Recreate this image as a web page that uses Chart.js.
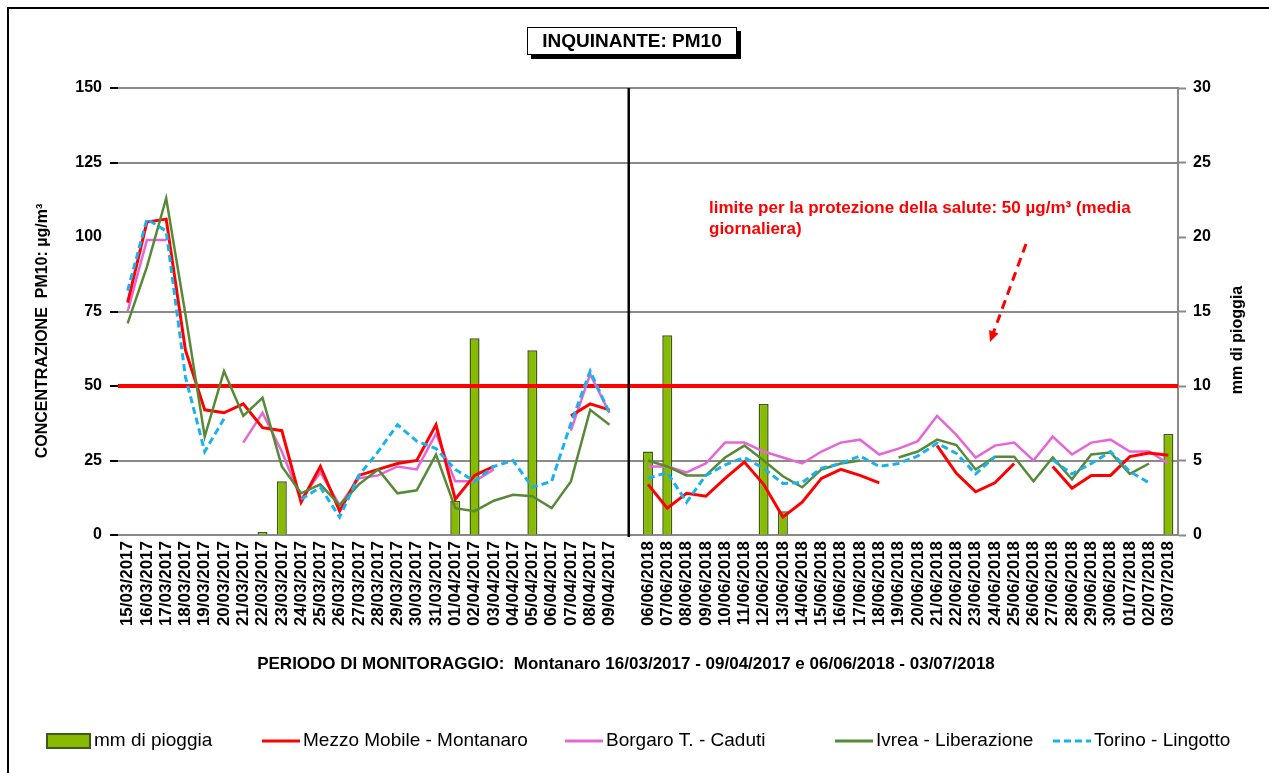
<!DOCTYPE html>
<html><head><meta charset="utf-8">
<script src="https://cdn.jsdelivr.net/npm/chart.js@4.4.1/dist/chart.umd.min.js"></script>
<style>html,body{margin:0;padding:0;background:#fff}canvas{display:block}</style>
</head><body>
<canvas id="c" width="1269" height="773"></canvas>
<script>
const categories = ['15/03/2017','16/03/2017','17/03/2017','18/03/2017','19/03/2017','20/03/2017','21/03/2017','22/03/2017','23/03/2017','24/03/2017','25/03/2017','26/03/2017','27/03/2017','28/03/2017','29/03/2017','30/03/2017','31/03/2017','01/04/2017','02/04/2017','03/04/2017','04/04/2017','05/04/2017','06/04/2017','07/04/2017','08/04/2017','09/04/2017','',
'06/06/2018','07/06/2018','08/06/2018','09/06/2018','10/06/2018','11/06/2018','12/06/2018','13/06/2018','14/06/2018','15/06/2018','16/06/2018','17/06/2018','18/06/2018','19/06/2018','20/06/2018','21/06/2018','22/06/2018','23/06/2018','24/06/2018','25/06/2018','26/06/2018','27/06/2018','28/06/2018','29/06/2018','30/06/2018','01/07/2018','02/07/2018','03/07/2018'];

const rain = [null,null,null,null,null,null,null,0.2,3.6,null,null,null,null,null,null,null,null,2.3,13.2,null,null,12.4,null,null,null,null,null,
5.6,13.4,null,null,null,null,8.8,1.6,null,null,null,null,null,null,null,null,null,null,null,null,null,null,null,null,null,null,null,6.8];

const montanaro = [78,105,106,62,42,41,44,36,35,11,23,8,20,22,24,25,37,12,20,23,null,null,null,40,44,42,null,
17,9,14,13,19,24.5,17,6,11,19,22,20,17.5,null,null,30,20.7,14.5,17.5,24,null,23,15.7,20,20,26.3,27.5,26.8];

const borgaro = [75,99,99,null,null,null,31,41,28,12,21,10,19,20,23,22,34,18,18,22,null,null,null,35,54,41,null,
23,23,21,24,31,31,28,26,24,28,31,32,27,29,31.5,40,33.6,26,30,31,25,33,27,31,32,28,28,24];

const ivrea = [71,90,113,74,33,55,40,46,23,14,17,10,17,22,14,15,27,9,8,11.5,13.5,13,9,18,42,37,null,
25,23,20,20,26,30,25,19.7,16,22,24,25,null,26,28,32,30.2,22,26.3,26.3,18,26,18.7,27,27.7,20.5,24,null];

const torino = [82,106,102,53,28,39,null,null,null,12,16,6,20,28,37,31.5,29,22,18,23,25,16,18,37.5,55,41,null,
19,21,11,20,23.5,26,22.4,17.3,17.6,22.4,24,26.5,23,24,26.5,30.8,27.4,20.5,26.3,null,null,25.2,20.5,24,28,21.3,17.5,null];

const LIMIT = 50;
const GAP_INDEX = 26;
const chartTitle = 'INQUINANTE: PM10';
const noteLines = ['limite per la protezione della salute: 50 µg/m³ (media', 'giornaliera)'];
const xTitle = 'PERIODO DI MONITORAGGIO:  Montanaro 16/03/2017 - 09/04/2017 e 06/06/2018 - 03/07/2018';
const yTitle = 'CONCENTRAZIONE  PM10: µg/m³';
const y1Title = 'mm di pioggia';
const seriesNames = ['mm di pioggia','Mezzo Mobile - Montanaro','Borgaro T. - Caduti','Ivrea - Liberazione','Torino - Lingotto'];

const FONT = '"Liberation Sans", Arial, sans-serif';
const LEGEND_X = [47, 262, 565, 835, 1053];
const LEGEND_Y = 741;

const decor = {
  id: 'decor',
  beforeDraw(chart) {
    const ctx = chart.ctx;
    ctx.save();
    ctx.fillStyle = '#fff';
    ctx.fillRect(0, 0, chart.width, chart.height);
    ctx.strokeStyle = '#000';
    ctx.lineWidth = 2;
    ctx.beginPath();
    ctx.moveTo(8, chart.height); ctx.lineTo(8, 8); ctx.lineTo(chart.width, 8);
    ctx.stroke();
    ctx.restore();
  },
  afterDatasetDraw(chart, args) {
    if (args.index !== 0) return;
    const {ctx, chartArea, scales} = chart;
    const py = scales.y.getPixelForValue(LIMIT);
    ctx.save();
    ctx.strokeStyle = '#ff0000';
    ctx.lineWidth = 4;
    ctx.beginPath();
    ctx.moveTo(chartArea.left, py); ctx.lineTo(chartArea.right, py);
    ctx.stroke();
    ctx.restore();
  },
  afterDatasetsDraw(chart) {
    const {ctx, chartArea, scales} = chart;
    const px = scales.x.getPixelForValue(GAP_INDEX);
    ctx.save();
    ctx.strokeStyle = '#000';
    ctx.lineWidth = 2.5;
    ctx.beginPath();
    ctx.moveTo(px, chartArea.top); ctx.lineTo(px, chartArea.bottom + 2);
    ctx.stroke();
    ctx.restore();
  },
  afterDraw(chart) {
    const ctx = chart.ctx;
    ctx.save();
    // title box
    ctx.fillStyle = '#000';
    ctx.fillRect(531, 31, 210, 28);
    ctx.fillStyle = '#fff';
    ctx.fillRect(527, 27, 210, 28);
    ctx.strokeStyle = '#000';
    ctx.lineWidth = 1;
    ctx.strokeRect(527.5, 27.5, 209, 27);
    ctx.fillStyle = '#000';
    ctx.font = 'bold 19px ' + FONT;
    ctx.textAlign = 'center';
    ctx.textBaseline = 'middle';
    ctx.fillText(chartTitle, 632, 42);

    // x title
    ctx.font = 'bold 17px ' + FONT;
    ctx.fillText(xTitle, 626, 664);

    // y title
    ctx.font = 'bold 16px ' + FONT;
    ctx.save();
    ctx.translate(43, 331);
    ctx.rotate(-Math.PI / 2);
    ctx.fillText(yTitle, 0, 0);
    ctx.restore();
    // y1 title
    ctx.save();
    ctx.translate(1238, 340);
    ctx.rotate(-Math.PI / 2);
    ctx.fillText(y1Title, 0, 0);
    ctx.restore();

    // note
    ctx.fillStyle = '#ff0000';
    ctx.font = 'bold 17px ' + FONT;
    ctx.textAlign = 'left';
    ctx.fillText(noteLines[0], 709, 208);
    ctx.fillText(noteLines[1], 709, 229);

    // arrow
    const x0 = 1026, y0 = 244, x1 = 990, y1 = 342;
    const dx = x1 - x0, dy = y1 - y0, len = Math.hypot(dx, dy);
    const ux = dx / len, uy = dy / len;
    ctx.strokeStyle = '#ff0000';
    ctx.lineWidth = 3;
    ctx.setLineDash([9, 6]);
    ctx.beginPath();
    ctx.moveTo(x0, y0); ctx.lineTo(x1 - ux * 9, y1 - uy * 9);
    ctx.stroke();
    ctx.setLineDash([]);
    ctx.beginPath();
    ctx.moveTo(x1, y1);
    ctx.lineTo(x1 - ux * 11 - uy * 5, y1 - uy * 11 + ux * 5);
    ctx.lineTo(x1 - ux * 11 + uy * 5, y1 - uy * 11 - ux * 5);
    ctx.closePath();
    ctx.fillStyle = '#ff0000';
    ctx.fill();

    // legend
    ctx.font = '19px ' + FONT;
    ctx.textBaseline = 'middle';
    chart.data.datasets.forEach((ds, i) => {
      const lx = LEGEND_X[i];
      let tx;
      if (ds.type === 'bar') {
        ctx.fillStyle = ds.backgroundColor;
        ctx.fillRect(lx, LEGEND_Y - 7, 43, 14);
        ctx.strokeStyle = ds.borderColor;
        ctx.lineWidth = 2;
        ctx.strokeRect(lx, LEGEND_Y - 7, 43, 14);
        tx = lx + 47;
      } else {
        ctx.strokeStyle = ds.borderColor;
        ctx.lineWidth = 3;
        ctx.setLineDash(ds.borderDash || []);
        ctx.beginPath();
        ctx.moveTo(lx, LEGEND_Y); ctx.lineTo(lx + 38, LEGEND_Y);
        ctx.stroke();
        ctx.setLineDash([]);
        tx = lx + 41;
      }
      ctx.fillStyle = '#000';
      ctx.fillText(ds.label, tx, LEGEND_Y);
    });
    ctx.restore();
  }
};

const lineBase = {type: 'line', pointRadius: 0, pointHoverRadius: 0, tension: 0, spanGaps: false, yAxisID: 'y', fill: false};

new Chart(document.getElementById('c'), {
  type: 'bar',
  data: {
    labels: categories,
    datasets: [
      {type: 'bar', label: seriesNames[0], data: rain, yAxisID: 'y1', backgroundColor: '#88bb00', borderColor: '#3d5a1e', borderWidth: 1.5, barPercentage: 0.52, categoryPercentage: 1, order: 5},
      Object.assign({}, lineBase, {label: seriesNames[1], data: montanaro, borderColor: '#ff0000', borderWidth: 3, order: 3}),
      Object.assign({}, lineBase, {label: seriesNames[2], data: borgaro, borderColor: '#e766d6', borderWidth: 2.5, order: 4}),
      Object.assign({}, lineBase, {label: seriesNames[3], data: ivrea, borderColor: '#578a36', borderWidth: 2.5, order: 2}),
      Object.assign({}, lineBase, {label: seriesNames[4], data: torino, borderColor: '#18b2ee', borderWidth: 3, borderDash: [7, 4], order: 1})
    ]
  },
  options: {
    responsive: false,
    animation: false,
    devicePixelRatio: 1,
    layout: {padding: {top: 88, left: 0, right: 0, bottom: 0}},
    plugins: {legend: {display: false}, tooltip: {enabled: false}, title: {display: false}},
    scales: {
      x: {
        type: 'category',
        offset: true,
        grid: {display: false, drawTicks: false},
        border: {display: false},
        ticks: {autoSkip: false, maxRotation: 90, minRotation: 90, padding: 6, color: '#000', font: {family: FONT, size: 17, weight: 'bold'}},
        afterFit(scale) { scale.height = 238; }
      },
      y: {
        position: 'left',
        min: 0, max: 150,
        ticks: {stepSize: 25, padding: 8, color: '#000', font: {family: FONT, size: 16, weight: 'bold'}},
        grid: {
          color: (c) => (c.tick && c.tick.value === 100) ? 'rgba(0,0,0,0)' : '#8a8a8a',
          tickColor: (c) => (c.tick && c.tick.value === 100) ? 'rgba(0,0,0,0)' : '#000',
          lineWidth: 2, tickLength: 8, tickWidth: 2
        },
        border: {display: false},
        afterFit(scale) { scale.width = 118; }
      },
      y1: {
        position: 'right',
        min: 0, max: 30,
        ticks: {stepSize: 5, padding: 7, color: '#000', font: {family: FONT, size: 16, weight: 'bold'}},
        grid: {drawOnChartArea: false, tickColor: '#8a8a8a', tickLength: 8, tickWidth: 2},
        border: {display: true, color: '#8a8a8a', width: 2},
        afterFit(scale) { scale.width = 91; }
      }
    }
  },
  plugins: [decor]
});
</script>
</body></html>
